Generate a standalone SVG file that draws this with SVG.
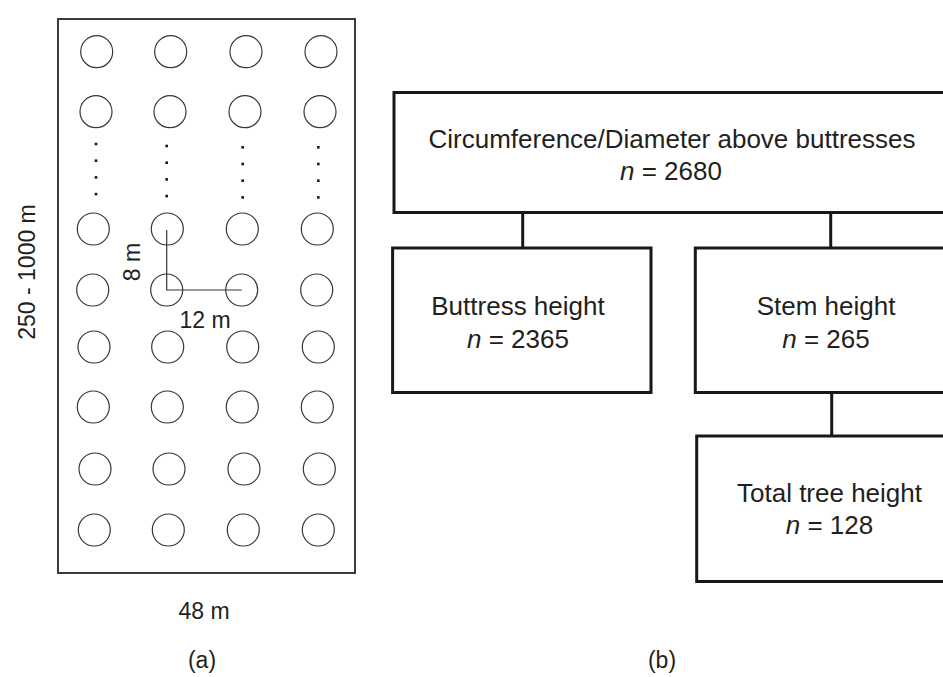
<svg xmlns="http://www.w3.org/2000/svg" width="943" height="677" viewBox="0 0 943 677">
<style>
text{font-family:"Liberation Sans",Arial,sans-serif;fill:#231f20}
.l{font-size:23px}
.r{font-size:26px}
.plot{fill:none;stroke:#3a3536;stroke-width:1.2}
.box{fill:#fff;stroke:#1a1718;stroke-width:3}
.con{stroke:#1a1718;stroke-width:3;fill:none}
.dot{fill:#1a1718}
.dim{stroke:#3a3536;stroke-width:1.2;fill:none}
</style>
<g id="plot-a">
<rect x="58" y="19" width="297" height="554" fill="#fff" stroke="#2a2627" stroke-width="1.8"/>
<g class="plot">
<circle cx="96.7" cy="51.7" r="16"/><circle cx="170.7" cy="51.7" r="16"/><circle cx="246" cy="51.7" r="16"/><circle cx="321" cy="51.7" r="16"/>
<circle cx="96" cy="111.7" r="16"/><circle cx="170" cy="111.7" r="16"/><circle cx="245" cy="111.7" r="16"/><circle cx="320" cy="111.7" r="16"/>
<circle cx="93.3" cy="229" r="16"/><circle cx="167.3" cy="229" r="16"/><circle cx="242.3" cy="229" r="16"/><circle cx="317.3" cy="229" r="16"/>
<circle cx="92.7" cy="290" r="16"/><circle cx="166.7" cy="290" r="16"/><circle cx="241.7" cy="290" r="16"/><circle cx="316.7" cy="290" r="16"/>
<circle cx="94" cy="347" r="16"/><circle cx="167.7" cy="347" r="16"/><circle cx="242.7" cy="347" r="16"/><circle cx="318.3" cy="347" r="16"/>
<circle cx="93.3" cy="407" r="16"/><circle cx="167.3" cy="407" r="16"/><circle cx="242.3" cy="407" r="16"/><circle cx="317.3" cy="407" r="16"/>
<circle cx="95" cy="469" r="16"/><circle cx="169" cy="469" r="16"/><circle cx="244" cy="469" r="16"/><circle cx="319.3" cy="469" r="16"/>
<circle cx="94.3" cy="530" r="16"/><circle cx="168.3" cy="530" r="16"/><circle cx="243.3" cy="530" r="16"/><circle cx="318.3" cy="530" r="16"/>
</g>
<g class="dot">
<rect x="94.7" y="142.7" width="2.6" height="2.6"/><rect x="94.7" y="159.4" width="2.6" height="2.6"/><rect x="94.7" y="176.1" width="2.6" height="2.6"/><rect x="94.7" y="192.8" width="2.6" height="2.6"/>
<rect x="165.4" y="144.7" width="2.6" height="2.6"/><rect x="165.4" y="161.4" width="2.6" height="2.6"/><rect x="165.4" y="178.1" width="2.6" height="2.6"/><rect x="165.4" y="194.8" width="2.6" height="2.6"/>
<rect x="241.4" y="146" width="2.6" height="2.6"/><rect x="241.4" y="162.7" width="2.6" height="2.6"/><rect x="241.4" y="179.4" width="2.6" height="2.6"/><rect x="241.4" y="196.1" width="2.6" height="2.6"/>
<rect x="317" y="146" width="2.6" height="2.6"/><rect x="317" y="162.7" width="2.6" height="2.6"/><rect x="317" y="179.4" width="2.6" height="2.6"/><rect x="317" y="196.1" width="2.6" height="2.6"/>
</g>
<path class="dim" d="M166.7 230 V290 H241.7"/>
<text class="l" text-anchor="middle" transform="translate(140 262) rotate(-90)">8 m</text>
<text class="l" x="205" y="328" text-anchor="middle">12 m</text>
<text class="l" text-anchor="middle" transform="translate(35 272) rotate(-90)">250 - 1000 m</text>
<text class="l" x="204" y="619" text-anchor="middle">48 m</text>
<text class="l" x="202" y="668" text-anchor="middle">(a)</text>
</g>
<g id="connectors">
<line class="con" x1="522.7" y1="212" x2="522.7" y2="248"/>
<line class="con" x1="830.7" y1="212" x2="830.7" y2="248"/>
<line class="con" x1="831.7" y1="392" x2="831.7" y2="436"/>
</g>
<g id="node-circumference">
<rect class="box" x="394" y="92.5" width="560" height="120"/>
<text class="r" x="672" y="148" text-anchor="middle">Circumference/Diameter above buttresses</text>
<text class="r" x="671" y="180" text-anchor="middle"><tspan font-style="italic">n</tspan> = 2680</text>
</g>
<g id="node-buttress">
<rect class="box" x="392.6" y="248" width="258.4" height="144.5"/>
<text class="r" x="518" y="315" text-anchor="middle">Buttress height</text>
<text class="r" x="518" y="348" text-anchor="middle"><tspan font-style="italic">n</tspan> = 2365</text>
</g>
<g id="node-stem">
<rect class="box" x="695.3" y="248" width="260" height="144.5"/>
<text class="r" x="826" y="315" text-anchor="middle">Stem height</text>
<text class="r" x="826" y="348" text-anchor="middle"><tspan font-style="italic">n</tspan> = 265</text>
</g>
<g id="node-total">
<rect class="box" x="696.7" y="436" width="260" height="145.5"/>
<text class="r" x="829.5" y="502" text-anchor="middle">Total tree height</text>
<text class="r" x="829.5" y="534" text-anchor="middle"><tspan font-style="italic">n</tspan> = 128</text>
</g>
<text class="l" x="662" y="668" text-anchor="middle">(b)</text>
</svg>
